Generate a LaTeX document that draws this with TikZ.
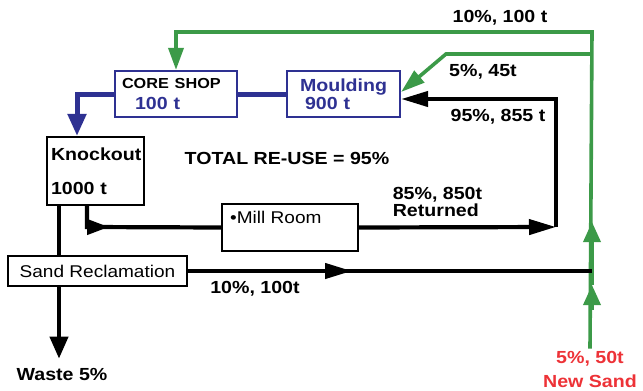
\documentclass[tikz,border=0pt]{standalone}
\usepackage{fontspec}
\setmainfont{Liberation Sans}[FakeStretch=1.12]
\usetikzlibrary{arrows.meta,positioning}
\definecolor{navy}{RGB}{46,49,146}
\definecolor{leaf}{RGB}{60,154,72}
\definecolor{alert}{RGB}{237,50,55}

\begin{document}
\begin{tikzpicture}[x=1pt, y=-1pt,
  box/.style={draw=navy, line width=2.2pt, align=left, inner sep=0pt,
    font=\bfseries\fontsize{17.5}{21}\selectfont},
  kbox/.style={box, draw=black, font=\fontsize{17}{20}\selectfont},
  lbl/.style={inner sep=0pt, font=\bfseries\fontsize{17.5}{20}\selectfont},
  flow/.style={draw=black, line width=4.2pt},
  blueflow/.style={flow, draw=navy, line width=5pt},
  greenflow/.style={flow, draw=leaf, line width=3.6pt},
  arr/.style={-{Triangle[length=#1, width=15pt]}}, arr/.default=24pt]
  \useasboundingbox (0,0) rectangle (643,391);
  % boxes
  \node[box, minimum width=122, minimum height=46, text width=108] (core) at (176,94)
    {{\fontsize{14.5}{16}\selectfont CORE SHOP}\\\textcolor{navy}{\hspace*{13pt}100 t}};
  \node[box, minimum width=113, minimum height=46, text width=87, text=navy,
    font=\bfseries\fontsize{17.5}{18}\selectfont] (mould) at (343.5,94)
    {Moulding\\\hspace*{5pt}900 t};
  \node[kbox, minimum width=97, minimum height=68, text width=89, font=\bfseries\fontsize{17.5}{20}\selectfont]
    (ko) at (95.5,171) {Knockout\\[14pt]1000 t};
  \node[kbox, minimum width=136, minimum height=47] (mill) at (290,227.5) {};
  \node[anchor=west, inner sep=0pt, font=\fontsize{17}{20}\selectfont] (milltxt) at (230,217)
    {\textbullet Mill Room};
  \node[kbox, minimum width=179, minimum height=30] (sand) at (97.5,271) {Sand Reclamation};
  % labels
  \node[lbl] (top) at (500,18) {10\%, 100 t};
  \node[lbl] (new45) at (483,72) {5\%, 45t};
  \node[lbl] (back855) at (498,117) {95\%, 855 t};
  \node[lbl] (total) at (287,158) {TOTAL RE-USE = 95\%};
  \node[lbl, align=left, font=\bfseries\fontsize{17.5}{17}\selectfont] (returned) at (437.5,202)
    {85\%, 850t\\Returned};
  \node[lbl] (recl) at (255,289) {10\%, 100t};
  \node[lbl, align=center, text=alert, font=\bfseries\fontsize{17.5}{24}\selectfont] (newsand) at (590,369)
    {5\%, 50t\\New Sand};
  \node[lbl] (waste) at (62,374) {Waste 5\%};
  % corner points
  \coordinate (gtop) at (592,32);
  \coordinate (gmid) at (592,54);
  \coordinate (gbend) at (446,54);
  \coordinate (g0) at (592,310);
  \coordinate (g1) at (592,285);
  \coordinate (g2) at (592,222);
  \coordinate (rcorner) at (556,227);
  \coordinate (rtop) at (556,99);
  \coordinate (kocorner) at (87,227);
  \coordinate (sandmid) at (352,271);
  \coordinate (sandend) at (592,271);
  % blue
  \draw[blueflow] (mould.west) -- (core.east);
  \draw[blueflow, -{Triangle[length=22pt, width=18pt]}] (core.west) -| ([xshift=-18.5pt]ko.north);
  % green
  \draw[greenflow, -{Triangle[length=22pt, width=15pt]}] ([yshift=2pt]newsand.north) -- (gtop) -| (core.north);
  \draw[greenflow, -{Triangle[length=20pt, width=17pt]}] (g0) -- (g1);
  \draw[greenflow, -{Triangle[length=20pt, width=17pt]}] (g1) -- (g2);
  \draw[greenflow, -{Triangle[length=24pt, width=15pt]}] (gmid) -- (gbend) -- ([yshift=2pt]mould.east);
  % black
  \draw[flow, arr=27pt] (mill.east) -- (rcorner);
  \draw[flow, arr=27pt] (rcorner) -- (rtop) -- (rtop -| mould.east);
  \draw[flow] ([xshift=-8.5pt]ko.south) -- (kocorner) -- (mill.west);
  \draw[flow, arr=22pt] (kocorner) -- ++(22,0);
  \draw[flow] ([xshift=-36.5pt]ko.south) -- ([xshift=-36.5pt]ko.south |- sand.north);
  \draw[flow, -{Triangle[length=22pt, width=18pt]}, shorten >=9pt] ([xshift=-38.5pt]sand.south)
    -- ([xshift=-38.5pt]sand.south |- waste.north);
  \draw[flow] (sand.east) -- (sandend);
  \draw[flow, arr=27pt] (sand.east) -- (sandmid);
\end{tikzpicture}
\end{document}
